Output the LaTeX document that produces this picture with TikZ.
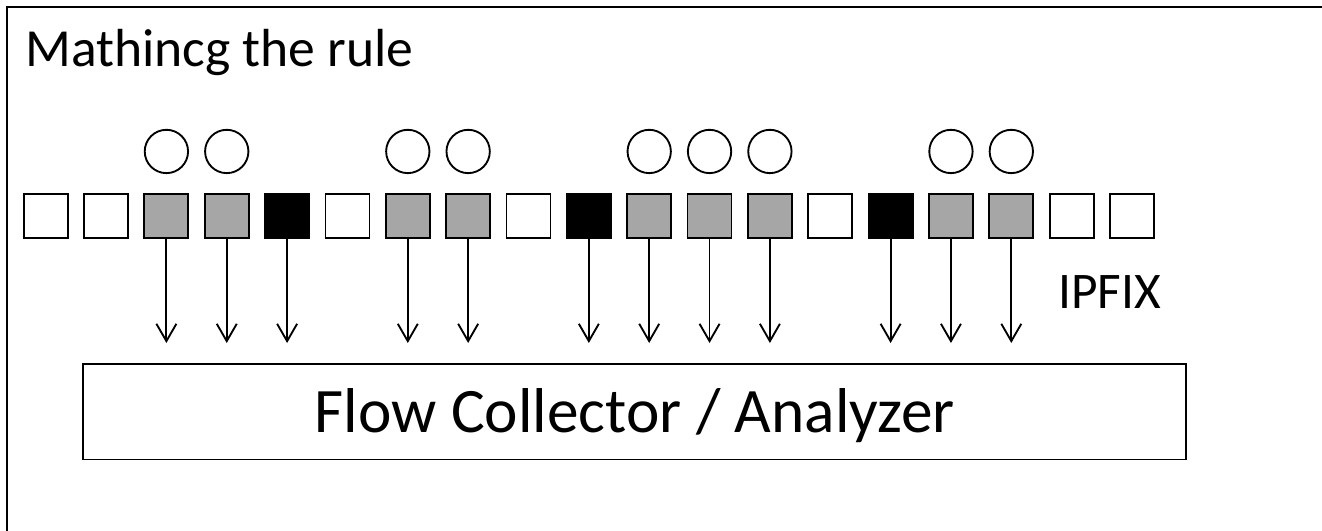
\documentclass[tikz,border=0pt]{standalone}
\usepackage{fontspec}
\setmainfont{Carlito}
\usepackage{tikz}
\usetikzlibrary{positioning, arrows.meta}

\definecolor{pg}{RGB}{166,166,166}
\colorlet{pw}{white}
\colorlet{pk}{black}

\begin{document}
\begin{tikzpicture}[x=0.75pt, y=-0.75pt,
    pkt/.style={draw, line width=1.4pt, minimum width=33pt, minimum height=33.5pt, inner sep=0pt},
    hit/.style={draw, circle, line width=1.4pt, minimum size=32.5pt, inner sep=0pt},
    flow/.style={line width=1.4pt, -{Straight Barb[length=13pt, width=15pt, line width=1.4pt]}}]
                    \useasboundingbox (0,0) rectangle (1322,531);
                    \def\xa{45.7}; \def\dx{60.35}; \def\yp{216}

                    \draw[line width=1.5pt] (1322,7.3) -- (6.7,7.3) -- (6.7,531);

                    \node[anchor=base west, inner sep=0pt, font=\fontsize{40.2pt}{44pt}\selectfont] (title) at (25,66.7) {Mathincg the rule};

                    \foreach \c [count=\i from 0] in {w,w,g,g,k,w,g,g,w,k,g,g,g,w,k,g,g,w,w} {
                        \node[pkt, fill = p\c] (p\i) at (\xa + \i*\dx, \yp) {};
                    }

                    \foreach \i in {2,3,6,7,10,11,12,15,16} {
                        \node[hit, above=14pt of p\i] (c\i) {};
                    }

                    \coordinate (tips) at (0,343);
                    \foreach \i in {2,3,4,6,7,9,10,11,12,14,15,16} {
                        \coordinate (t\i) at (p\i.south |- tips);
                        \draw[flow] (p\i.south) -- (t\i);
                    }

                    \node[anchor=base west, inner sep=0pt, font=\fontsize{38.5pt}{42pt}\selectfont] (ipfix) at (1058,308.5) {IPFIX};

                    \node[draw, line width=1.2pt, minimum width=827pt, minimum height=71.8pt] (fca) at (634.5,411.7) {};
                    \node[anchor=base, inner sep=0pt, font=\fontsize{47.5pt}{52pt}\selectfont] (fcatext) at (635,432.7) {Flow Collector / Analyzer};
                \end{tikzpicture}
\end{document}
